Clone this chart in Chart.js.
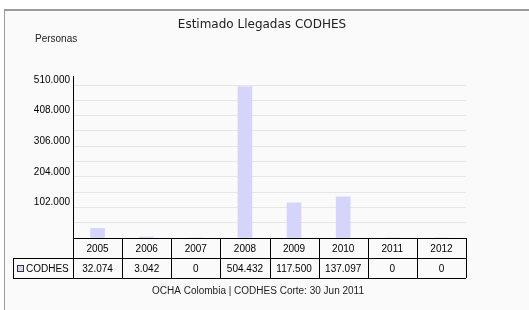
<!DOCTYPE html>
<html>
<head>
<meta charset="utf-8">
<script src="https://cdn.jsdelivr.net/npm/chart.js@4"></script>
<style>
  html, body { margin: 0; padding: 0; background: #fff; }
  #frame {
    position: absolute; left: 4px; top: 9px; width: 540px; height: 320px;
    background: #fafafa; border-top: 2px solid #9a9a9a; border-left: 1px solid #9a9a9a;
  }
  #chart { position: absolute; left: 0; top: 0; }
</style>
</head>
<body>
<div id="frame"></div>
<canvas id="chart" width="529" height="310"></canvas>
<script>
const years = ["2005", "2006", "2007", "2008", "2009", "2010", "2011", "2012"];
const codhes = [32074, 3042, 0, 504432, 117500, 137097, 0, 0];
const yTickValues = [102000, 204000, 306000, 408000, 510000];
const yTickLabels = ["102.000", "204.000", "306.000", "408.000", "510.000"];

const titleText = "Estimado Llegadas CODHES";
const yAxisTitle = "Personas";
const seriesName = "CODHES";
const footerText = "OCHA Colombia | CODHES Corte: 30 Jun 2011";

const barColor = "#d5d5fb";
const smallFont = "10px 'Liberation Sans', sans-serif";
const gridStep = 51000;
const yMax = 540000;

const fmt = (v) => String(v).replace(/\B(?=(\d{3})+(?!\d))/g, ".");

// draws title, axis caption, the data table and the footer
const tablePlugin = {
    id: "dataTable",
    afterDraw(chart) {
        const ctx = chart.ctx;
        const area = chart.chartArea;
        const xs = chart.scales.x;
        const colW = (area.right - area.left) / years.length;
        const rowH = 20;
        const top = area.bottom;

        ctx.save();
        ctx.fillStyle = "#222";
        ctx.textAlign = "center";
        ctx.textBaseline = "middle";
        ctx.font = "12px 'DejaVu Sans', sans-serif";
        ctx.fillText(titleText, 262, 25);

        ctx.font = smallFont;
        ctx.textAlign = "left";
        ctx.fillText(yAxisTitle, 35, 39);

        // grid lines of the table
        ctx.strokeStyle = "#000";
        ctx.lineWidth = 1;
        ctx.beginPath();
        ctx.moveTo(area.left, top + 0.5);
        ctx.lineTo(area.right, top + 0.5);
        ctx.moveTo(13, top + rowH + 0.5);
        ctx.lineTo(area.right, top + rowH + 0.5);
        ctx.moveTo(13, top + 2 * rowH + 0.5);
        ctx.lineTo(area.right, top + 2 * rowH + 0.5);
        ctx.moveTo(13.5, top + rowH);
        ctx.lineTo(13.5, top + 2 * rowH);
        for (let i = 0; i <= years.length; i++) {
            const x = Math.round(area.left + i * colW) + 0.5;
            ctx.moveTo(x, top);
            ctx.lineTo(x, top + 2 * rowH);
        }
        ctx.stroke();

        ctx.textAlign = "center";
        ctx.fillStyle = "#000";
        years.forEach((y, i) => {
            const cx = xs.getPixelForTick(i);
            ctx.fillText(y, cx, top + rowH / 2 + 1);
            ctx.fillText(fmt(codhes[i]), cx, top + rowH * 1.5 + 1);
        });

        // legend key + series name
        ctx.fillStyle = barColor;
        ctx.fillRect(17, top + rowH + 7, 7, 7);
        ctx.strokeStyle = "#333";
        ctx.strokeRect(17.5, top + rowH + 7.5, 6, 6);
        ctx.fillStyle = "#000";
        ctx.textAlign = "left";
        ctx.fillText(seriesName, 26, top + rowH * 1.5 + 1);

        ctx.textAlign = "center";
        ctx.fillStyle = "#222";
        ctx.fillText(footerText, 258, 291);
        ctx.restore();
    },
};

new Chart(document.getElementById("chart"), {
    type: "bar",
    data: {
        labels: years,
        datasets: [
            {
                label: seriesName,
                data: codhes,
                backgroundColor: barColor,
                borderWidth: 0,
                barThickness: 14,
            },
        ],
    },
    options: {
        responsive: false,
        animation: false,
        devicePixelRatio: 1,
        layout: { padding: { left: 0, top: 76, right: 63, bottom: 72 } },
        plugins: {
            legend: { display: false },
            tooltip: { enabled: false },
        },
        scales: {
            x: { display: false },
            y: {
                min: 0,
                max: yMax,
                afterFit: (s) => { s.width = 73; },
                // grid every 51.000, labels every 102.000
                afterBuildTicks: (s) => {
                    const t = [];
                    for (let v = 0; v <= yMax; v += gridStep) t.push({ value: v });
                    s.ticks = t;
                },
                ticks: {
                    autoSkip: false,
                    padding: 3,
                    labelOffset: -5,
                    color: "#000",
                    font: { family: "'Liberation Sans', sans-serif", size: 10 },
                    callback: (v) => {
                        const i = yTickValues.indexOf(Math.round(v));
                        return i >= 0 ? yTickLabels[i] : "";
                    },
                },
                grid: { color: "#e6e6e6", drawTicks: false },
                border: { display: true, color: "#000" },
            },
        },
    },
    plugins: [tablePlugin],
});
</script>
</body>
</html>
